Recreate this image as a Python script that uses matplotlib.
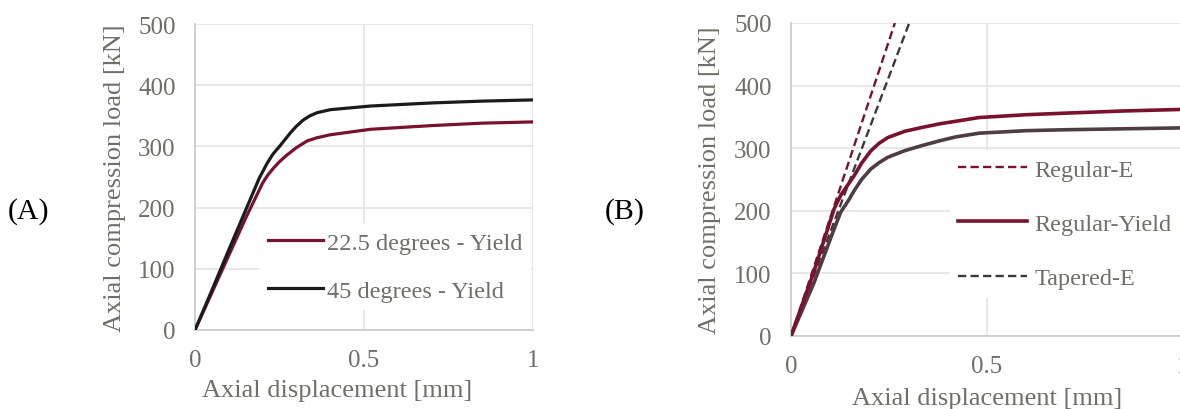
import matplotlib
matplotlib.use("Agg")
import matplotlib.pyplot as plt

# ---------------- data ----------------
# Panel A
a_x_225 = [0, 0.05, 0.1, 0.15, 0.2, 0.215, 0.233, 0.25, 0.27, 0.3, 0.332, 0.36, 0.4, 0.52, 0.7, 0.85, 1.0]
a_y_225 = [0, 61, 122, 183, 240, 253, 265, 275, 285, 298, 309, 314, 319, 328, 334, 338, 340]
a_x_45 = [0, 0.05, 0.1, 0.15, 0.19, 0.213, 0.23, 0.25, 0.282, 0.3, 0.32, 0.34, 0.361, 0.4, 0.52, 0.7, 0.85, 1.0]
a_y_45 = [0, 65, 131, 196, 248, 272, 287, 300, 322, 333, 343, 350, 355, 360, 366, 371, 374, 376]

# Panel B
b_x_regE = [0, 0.265]
b_y_regE = [0, 500]
b_x_tapE = [0, 0.3016]
b_y_tapE = [0, 500]
b_x_regY = [0, 0.058, 0.11, 0.127, 0.161, 0.18, 0.204, 0.225, 0.247, 0.29, 0.333, 0.38, 0.42, 0.48, 0.6, 0.7, 0.85, 1.0]
b_y_regY = [0, 102, 203, 225, 256, 276, 296, 308, 317, 327, 333, 339, 343, 349, 353.5, 356, 359.5, 362]
b_x_tapY = [0, 0.058, 0.11, 0.127, 0.148, 0.161, 0.18, 0.204, 0.225, 0.247, 0.29, 0.333, 0.38, 0.42, 0.48, 0.6, 0.7, 0.85, 1.0]
b_y_tapY = [0, 84, 171, 198, 218, 232, 250, 267, 277, 285.5, 296, 304, 312, 318, 324, 328, 329.5, 331, 332.5]

labels_a = ["22.5 degrees - Yield", "45 degrees - Yield"]
labels_b = ["Regular-E", "Regular-Yield", "Tapered-E"]
xticks = [0, 0.5, 1]
xticklabels = ["0", "0.5", "1"]
yticks = [0, 100, 200, 300, 400, 500]

# ---------------- style ----------------
FONT = "Liberation Serif"
TXT = "#6f6f68"
MAROON = "#79122e"
BLACK = "#1b1b1b"
TAPY = "#4f3c45"
TAPE = "#3a3a3a"
GRID = "#e6e6e6"
SPINE = "#cdcdc8"
FS_TICK = 18
FS_LAB = 19
FS_LEG = 17.5

plt.rcParams["font.family"] = [FONT, "DejaVu Serif"]

fig = plt.figure(figsize=(11.8, 4.1), dpi=100)
W, H = 1180, 410

axA = fig.add_axes([195 / W, 79 / H, 338 / W, 306 / H])
axB = fig.add_axes([791 / W, 73 / H, 392 / W, 313 / H])


def style(ax):
    ax.set_xlim(0, 1)
    ax.set_ylim(0, 500)
    ax.set_xticks(xticks)
    ax.set_xticklabels(xticklabels)
    ax.set_yticks(yticks)
    ax.grid(True, color=GRID, lw=1.3, zorder=0)
    ax.set_axisbelow(True)
    for s in ["top", "right"]:
        ax.spines[s].set_visible(False)
    for s in ["left", "bottom"]:
        ax.spines[s].set_color(SPINE)
        ax.spines[s].set_linewidth(1.3)
    ax.tick_params(length=0, labelsize=FS_TICK, labelcolor=TXT)
    ax.tick_params(axis="x", pad=14)
    ax.tick_params(axis="y", pad=14)
    ax.set_xlabel("Axial displacement [mm]", fontsize=FS_LAB, color=TXT, va="center")
    ax.set_ylabel("Axial compression load [kN]", fontsize=FS_LAB, color=TXT,
                  va="center", ha="center")


style(axA)
style(axB)

# Panel A curves
lA1, = axA.plot(a_x_225, a_y_225, color=MAROON, lw=2.3, solid_joinstyle="round", zorder=3)
lA2, = axA.plot(a_x_45, a_y_45, color=BLACK, lw=2.3, solid_joinstyle="round", zorder=4)
axA.xaxis.set_label_coords((337 - 195) / 338, (331 - 391) / 306)
axA.yaxis.set_label_coords((115 - 195) / 338, 0.5)

legA = axA.legend([lA1, lA2], labels_a, loc="center left",
                  bbox_to_anchor=(0.19, 0.2075), fontsize=FS_LEG,
                  frameon=True, facecolor="white", edgecolor="none", framealpha=1,
                  fancybox=False, borderpad=0.35, handlelength=2.26,
                  handletextpad=0.17, labelspacing=1.07, borderaxespad=0)
for t in legA.get_texts():
    t.set_color(TXT)
legA.set_zorder(2)

# Panel B curves
lB1, = axB.plot(b_x_regE, b_y_regE, color=MAROON, lw=1.7, dashes=(3.5, 1.8), zorder=3)
lB4, = axB.plot(b_x_tapY, b_y_tapY, color=TAPY, lw=2.6, solid_joinstyle="round", zorder=4)
lB3, = axB.plot(b_x_tapE, b_y_tapE, color=TAPE, lw=1.7, dashes=(3.5, 1.8), zorder=3)
lB2, = axB.plot(b_x_regY, b_y_regY, color=MAROON, lw=2.6, solid_joinstyle="round", zorder=5)
axB.xaxis.set_label_coords(0.5, (337 - 399) / 313)
axB.yaxis.set_label_coords((710 - 791) / 392, 0.5)

legB = axB.legend([lB1, lB2, lB3], labels_b, loc="center left",
                  bbox_to_anchor=(0.405, 0.358), fontsize=FS_LEG,
                  frameon=True, facecolor="white", edgecolor="none", framealpha=1,
                  fancybox=False, borderpad=0.35, handlelength=2.84,
                  handletextpad=0.3, labelspacing=1.32, borderaxespad=0)
for t in legB.get_texts():
    t.set_color(TXT)
legB.set_zorder(2)

fig.text(8 / W, 1 - 212 / H, "(A)", fontsize=21.5, color="black", va="center", ha="left")
fig.text(605 / W, 1 - 212 / H, "(B)", fontsize=21.5, color="black", va="center", ha="left")

fig.savefig("out.png", dpi=100)
